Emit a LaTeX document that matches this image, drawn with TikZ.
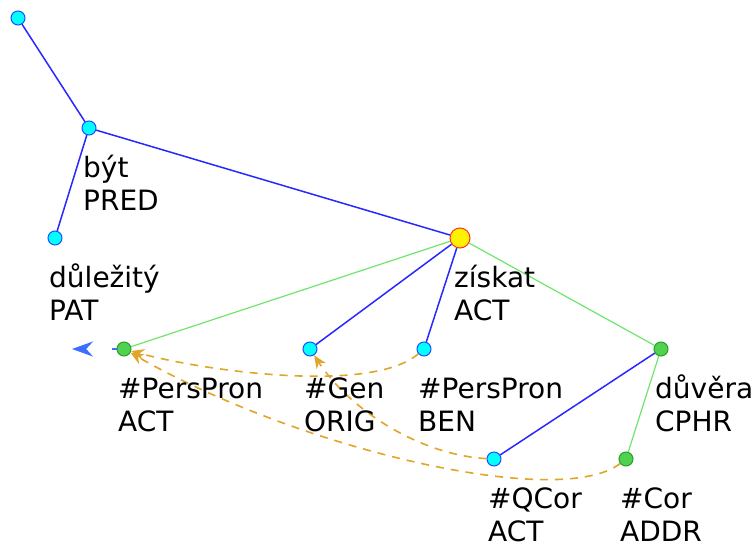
\documentclass[tikz,border=0pt]{standalone}
\usepackage{fontspec}
\setmainfont{DejaVu Sans}
\usetikzlibrary{arrows.meta}
\definecolor{edgeblue}{RGB}{40,40,255}
\definecolor{edgegreen}{RGB}{110,230,110}
\definecolor{nodecyan}{RGB}{0,255,255}
\definecolor{nodecyanb}{RGB}{30,80,255}
\definecolor{nodegreen}{RGB}{80,210,80}
\definecolor{nodegreenb}{RGB}{40,160,40}
\definecolor{focusb}{RGB}{255,50,40}
\definecolor{corefc}{RGB}{225,165,40}
\definecolor{extblue}{RGB}{60,110,255}
\newcommand\tlabel[3]{%
  \node[lbl] (#1a) at ([xshift=-6pt,yshift=-49pt]#1.center) {#2};
  \node[lbl] (#1b) at ([xshift=-6pt,yshift=-82pt]#1.center) {#3};}
\begin{document}
\begin{tikzpicture}[x=1pt,y=-1pt,
  tnode/.style={circle,inner sep=0pt,minimum size=14pt,line width=1pt},
  cyannode/.style={tnode,fill=nodecyan,draw=nodecyanb},
  greennode/.style={tnode,fill=nodegreen,draw=nodegreenb},
  focusnode/.style={tnode,minimum size=20pt,fill=yellow,draw=focusb},
  bedge/.style={draw=edgeblue,line width=1.5pt},
  gedge/.style={draw=edgegreen,line width=1.2pt},
  coref/.style={draw=corefc,line width=1.6pt,dash pattern=on 8pt off 7pt,
    -{Stealth[length=13pt,width=11pt,fill=corefc]}},
  extarrow/.style={draw=extblue,line width=2pt,dash pattern=on 5pt off 60pt,
    -{Stealth[length=21pt,width=15pt,fill=extblue]}},
  lbl/.style={anchor=base west,inner sep=0pt,font=\fontsize{28}{33}\selectfont}]
\useasboundingbox[fill=white] (0,0) rectangle (756,544);
% nodes
\node[cyannode] (root) at (18,18) {};
\node[cyannode] (byt) at (89,128) {};
\node[cyannode] (dul) at (55,238) {};
\node[focusnode] (zis) at (460,238) {};
\node[greennode] (ppa) at (124,349) {};
\node[cyannode] (gen) at (310,349) {};
\node[cyannode] (ben) at (424,349) {};
\node[greennode] (duv) at (661,349) {};
\node[cyannode] (qcor) at (494,459) {};
\node[greennode] (cor) at (626,459) {};
\coordinate (ext) at (72,349);
% edges
\draw[bedge] (root) -- (byt);
\draw[bedge] (byt) -- (dul);
\draw[bedge] (byt) -- (zis);
\draw[gedge] (zis) -- (ppa);
\draw[bedge] (zis) -- (gen);
\draw[bedge] (zis) -- (ben);
\draw[gedge] (zis) -- (duv);
\draw[bedge] (duv) -- (qcor);
\draw[gedge] (duv) -- (cor);
% coreference arrows
\draw[coref] (ben) .. controls (370,395) and (200,370) .. (ppa);
\draw[coref] (qcor) .. controls (420,455) and (350,410) .. (gen);
\draw[coref] (cor) .. controls (560,510) and (300,450) .. (ppa);
\draw[extarrow] (ppa) -- (ext);
% labels
\tlabel{byt}{být}{PRED}
\tlabel{dul}{důležitý}{PAT}
\tlabel{zis}{získat}{ACT}
\tlabel{ppa}{\#PersPron}{ACT}
\tlabel{gen}{\#Gen}{ORIG}
\tlabel{ben}{\#PersPron}{BEN}
\tlabel{duv}{důvěra}{CPHR}
\tlabel{qcor}{\#QCor}{ACT}
\tlabel{cor}{\#Cor}{ADDR}
\end{tikzpicture}
\end{document}
